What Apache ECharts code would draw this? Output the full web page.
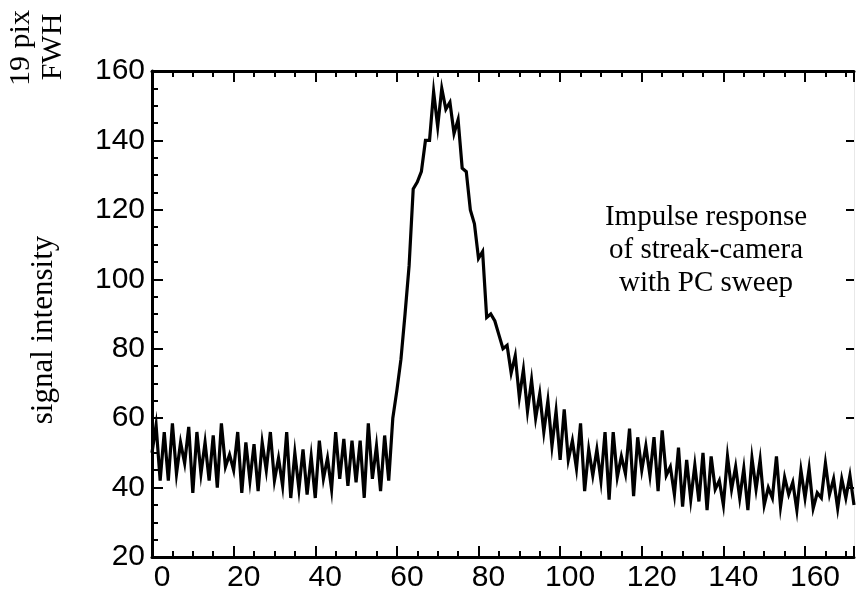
<!DOCTYPE html>
<html>
<head>
<meta charset="utf-8">
<script src="https://cdn.jsdelivr.net/npm/echarts@6/dist/echarts.min.js"></script>
<style>html,body{margin:0;padding:0;background:#fff}#c{width:857px;height:593px}</style>
</head>
<body>
<div id="c"></div>
<script>
// pixel index along the streak (x) and signal intensity (y)
var xs = [];
for (var i = 0; i <= 172; i++) xs.push(i);
var ys = [
50,58,42,56,42,58.5,44,53,47,57.5,
38.5,56,44,53,42,55,40,58.5,46,49.5,
45,56,38.5,53,42,52.5,39,53,45,56,
42,48.5,40.5,56,37,50,39.5,51,38,49,
37,53.5,42.5,48.5,39.5,56,42.5,54,40.5,53.5,
41.5,53.5,37,58.5,42.5,52,39,55,42,60,
68,77,90,104,126,128,131,140,140,154,
144,155,149,151,142,146,132,131,120,116,
106,108,89,90,88,84,80,81,73,78,
66,74,62,71,60,67,56,65,52,62,
48,62.5,48,53.5,45.5,58.5,39,51,43.5,51,
42,56,36.5,56,43,49,44,57,37.5,54.5,
45,52,43.5,54.5,39,56.5,43.5,46,38,51.5,
34.5,48,36.5,46.5,36,50,33.5,49,39.5,42,
35,49,39.5,46,37,45.5,33.5,48.5,39.5,48,
35,40,37,49,34.5,43,38,41.5,33.5,45,
37,45.5,34,38.5,37,47,38,42.5,34,42.5,
37,43.5,35
];
var xTickLabels = [0,20,40,60,80,100,120,140,160];
var yTickLabels = [20,40,60,80,100,120,140,160];
var yAxisTitle = 'signal intensity';
var noteLines = ['Impulse response', 'of streak-camera', 'with PC sweep'];
var cornerLines = ['19 pix', 'FWH'];

var chart = echarts.init(document.getElementById('c'), null, {renderer: 'canvas'});
var serif = '"Liberation Serif", "Times New Roman", serif';
var sans = '"Liberation Sans", Arial, sans-serif';
var tickStyle = {color: '#000', width: 2};

var option = {
  animation: false,
  backgroundColor: '#fff',
  grid: {left: 152, right: 2, top: 71, bottom: 35, containLabel: false},
  xAxis: [{
    type: 'value', min: 0, max: 172, interval: 20, position: 'bottom',
    axisLine: {show: true, onZero: false, lineStyle: {color: '#000', width: 3}},
    axisTick: {show: true, inside: true, length: 11, lineStyle: tickStyle},
    minorTick: {show: true, splitNumber: 4, length: 6, lineStyle: tickStyle},
    splitLine: {show: false},
    axisLabel: {
      show: true, color: '#000', fontFamily: sans, fontSize: 30, margin: 6,
      padding: [0, 0, 0, 20],
      formatter: function (v) { return xTickLabels.indexOf(v) >= 0 ? String(v) : ''; }
    }
  }, {
    type: 'value', min: 0, max: 172, interval: 20, position: 'top',
    axisLine: {show: true, onZero: false, lineStyle: {color: '#000', width: 3}},
    axisTick: {show: true, inside: true, length: 11, lineStyle: tickStyle},
    minorTick: {show: true, splitNumber: 4, length: 6, lineStyle: tickStyle},
    splitLine: {show: false},
    axisLabel: {show: false}
  }],
  yAxis: [{
    type: 'value', min: 20, max: 160, interval: 20, position: 'left',
    axisLine: {show: true, onZero: false, lineStyle: {color: '#000', width: 3}},
    axisTick: {show: true, inside: true, length: 11, lineStyle: tickStyle},
    minorTick: {show: true, splitNumber: 4, length: 6, lineStyle: tickStyle},
    splitLine: {show: false},
    axisLabel: {
      show: true, color: '#000', fontFamily: sans, fontSize: 30, margin: 7,
      formatter: function (v) { return yTickLabels.indexOf(v) >= 0 ? String(v) : ''; }
    }
  }, {
    type: 'value', min: 20, max: 160, interval: 20, position: 'right',
    axisLine: {show: true, onZero: false, lineStyle: {color: '#e8e8e8', width: 1}},
    axisTick: {show: true, inside: true, length: 8, lineStyle: tickStyle},
    splitLine: {show: false},
    axisLabel: {show: false}
  }],
  series: [{
    type: 'line',
    xAxisIndex: 0, yAxisIndex: 0,
    data: xs.map(function (x, i) { return [x, ys[i]]; }),
    showSymbol: false, symbol: 'none',
    lineStyle: {color: '#000', width: 3.2, join: 'miter'},
    clip: false
  }],
  graphic: [
    {type: 'text', x: 44, y: 330, rotation: Math.PI / 2,
     style: {text: yAxisTitle, font: '31px ' + serif, fill: '#000', align: 'center', verticalAlign: 'middle'}},
    {type: 'text', x: 706, y: 250,
     style: {text: noteLines.join('\n'), font: '29px ' + serif, lineHeight: 33, fill: '#000', align: 'center', verticalAlign: 'middle'}},
    {type: 'text', x: 21, y: 48, rotation: Math.PI / 2,
     style: {text: cornerLines[0], font: '30px ' + serif, fill: '#000', align: 'center', verticalAlign: 'middle'}},
    {type: 'text', x: 53, y: 47, rotation: Math.PI / 2,
     style: {text: cornerLines[1], font: '30px ' + serif, fill: '#000', align: 'center', verticalAlign: 'middle'}}
  ]
};
chart.setOption(option);
</script>
</body>
</html>
